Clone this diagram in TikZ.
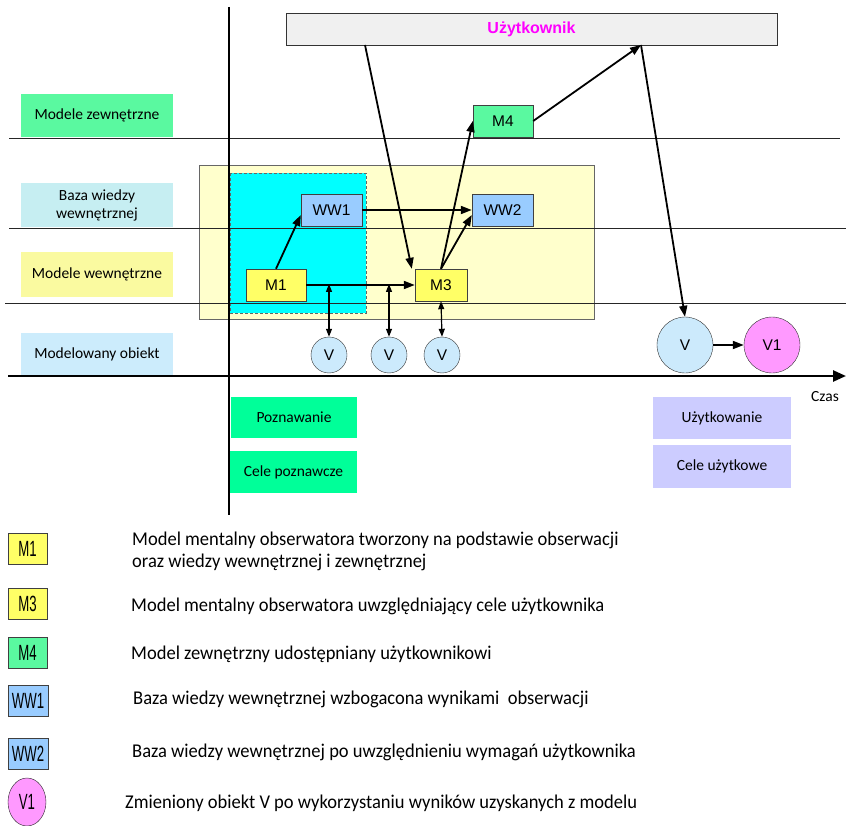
\documentclass[tikz,border=0pt]{standalone}
\usepackage{fontspec}
\setmainfont{Carlito}
\newfontfamily\arialf{Liberation Sans}
\newfontfamily\legf[FakeStretch=0.95]{Carlito}
\newfontfamily\legboxf[FakeStretch=0.6]{Liberation Sans}
\usetikzlibrary{arrows.meta,shapes.geometric}
\definecolor{greenA}{RGB}{90,249,160}
\definecolor{cyanL}{RGB}{198,238,242}
\definecolor{yellowL}{RGB}{250,250,160}
\definecolor{blueL}{RGB}{204,236,252}
\definecolor{bgYellow}{RGB}{255,255,204}
\definecolor{cyanF}{RGB}{0,255,255}
\definecolor{boxBlue}{RGB}{153,204,255}
\definecolor{boxYellow}{RGB}{255,255,102}
\definecolor{vBlue}{RGB}{204,234,252}
\definecolor{vPink}{RGB}{255,153,255}
\definecolor{poznGreen}{RGB}{0,255,153}
\definecolor{lilac}{RGB}{204,204,255}
\definecolor{userGray}{RGB}{240,240,240}
\definecolor{magentaT}{RGB}{255,0,255}
\tikzset{
  lbl/.style={fill=#1, minimum width=152pt, inner sep=0pt, align=center, font=\fontsize{15.5}{18}\selectfont},
  goal/.style={fill=#1, inner sep=0pt, font=\fontsize{15.5}{18}\selectfont},
  mbox/.style={draw=black!75, fill=#1, inner sep=0pt, font=\arialf\fontsize{15.5}{18}\selectfont},
  vcirc/.style={circle, draw=black!80, fill=#1, inner sep=0pt, font=\arialf\fontsize{15.5}{18}\selectfont},
  lgbox/.style={draw=black!75, fill=#1, inner sep=0pt, minimum width=39pt, minimum height=31pt, font=\legboxf\fontsize{22}{24}\selectfont},
  lgtext/.style={anchor=west, inner sep=0pt, align=left, font=\legf\fontsize{19.5}{22}\selectfont},
  arr/.style={line width=1.8pt, -{Triangle[length=11pt,width=8pt]}},
  dbl/.style={line width=1.2pt, {Triangle[length=8pt,width=6pt]}-{Triangle[length=8pt,width=6pt]}},
  thinline/.style={line width=0.9pt, draw=black!85},
}
\begin{document}
\begin{tikzpicture}[x=1pt,y=-1pt]
\useasboundingbox (0,0) rectangle (846,826);
% background regions
\fill[bgYellow, draw=black!60, line width=0.8pt] (199,165) rectangle (594,319);
\fill[cyanF, draw=black!60, densely dashed, line width=0.8pt] (230,173) rectangle (366,313);
% row lines
\draw[thinline] (9,138) -- (840,138);
\draw[thinline] (9,228) -- (846,228);
\draw[thinline] (5,303) -- (846,303);
% axes
\draw[line width=2.5pt] (229,7) -- (229,515);
\draw[line width=2.5pt, -{Triangle[length=13pt,width=11pt]}] (8,376) -- (846,376);
\node[font=\fontsize{15.5}{18}\selectfont] (czas) at (825,397) {Czas};
% user box
\node[draw=black!80, fill=userGray, minimum width=491pt, minimum height=32pt, inner sep=0pt,
  font=\arialf\bfseries\fontsize{16}{18}\selectfont, text=magentaT] (uz) at (531.5,29) {U\.zytkownik};
\coordinate (uzA) at (365,45);
\coordinate (uzB) at (641,45);
% left labels
\node[lbl=greenA, minimum height=43pt] (mz) at (97,115.5) {Modele zewnętrzne};
\node[lbl=cyanL, minimum height=44pt] (bw) at (97,205.5) {Baza wiedzy\\wewnętrznej};
\node[lbl=yellowL, minimum height=45pt] (mw) at (97,274.5) {Modele wewnętrzne};
\node[lbl=blueL, minimum height=42pt] (mo) at (97,354) {Modelowany obiekt};
% model boxes
\node[mbox=boxBlue, minimum width=61pt, minimum height=32pt] (ww1) at (331.5,210) {WW1};
\node[mbox=boxBlue, minimum width=61pt, minimum height=32pt] (ww2) at (502.5,210) {WW2};
\node[mbox=boxYellow, minimum width=60pt, minimum height=32pt] (m1) at (276,285) {M1};
\node[mbox=boxYellow, minimum width=52pt, minimum height=32pt] (m3) at (441,285) {M3};
\node[mbox=greenA, minimum width=60pt, minimum height=32pt] (m4) at (503,121) {M4};
% objects
\node[vcirc=vBlue, minimum size=36pt] (va) at (329,355) {V};
\node[vcirc=vBlue, minimum size=36pt] (vb) at (389,355) {V};
\node[vcirc=vBlue, minimum size=36pt] (vc) at (442,355) {V};
\node[vcirc=vBlue, minimum size=56pt] (bv) at (685,345) {V};
\node[vcirc=vPink, minimum size=56pt] (v1) at (772,345) {V1};
% goal boxes
\node[goal=poznGreen, minimum width=126pt, minimum height=41pt] (pz) at (294,417.5) {Poznawanie};
\node[goal=poznGreen, minimum width=127pt, minimum height=42pt] (cp) at (293.5,472) {Cele poznawcze};
\node[goal=lilac, minimum width=138pt, minimum height=42pt] (uw) at (722,418) {Użytkowanie};
\node[goal=lilac, minimum width=138pt, minimum height=43pt] (cu) at (722,466.5) {Cele użytkowe};
% arrows
\coordinate (p1) at (329,285);
\coordinate (p2) at (389,285);
\draw[arr] (uzA) -- ([xshift=-3pt]m3.north west);
\draw[arr] (m3.north) -- (m4.west);
\draw[arr] (m3.north) -- ([yshift=-5pt]ww2.west);
\draw[arr] (m4.east) -- (uzB);
\draw[arr] (uzB) -- (bv.north);
\draw[arr] (bv.east) -- (v1.west);
\draw[arr] (m1.east) -- (m3.west);
\draw[arr] (m1.north) -- ([yshift=-5pt]ww1.west);
\draw[arr] (ww1.east) -- (ww2.west);
\draw[dbl] ([yshift=1pt]p1) -- (va.north);
\draw[dbl] ([yshift=1pt]p2) -- (vb.north);
\draw[dbl] (m3.south) -- (vc.north);
% legend
\node[lgbox=boxYellow] (lm1) at (27.5,549) {M1};
\node[lgbox=boxYellow] (lm3) at (27.5,603.5) {M3};
\node[lgbox=greenA] (lm4) at (27.5,652.5) {M4};
\node[lgbox=boxBlue, minimum width=40pt] (lww1) at (28,700.5) {WW1};
\node[lgbox=boxBlue, minimum width=40pt] (lww2) at (28,753.5) {WW2};
\node[ellipse, draw=black!85, fill=vPink, minimum width=38pt, minimum height=48pt, inner sep=0pt,
  font=\legboxf\fontsize{22}{24}\selectfont] (lv1) at (27,802) {V1};
\node[lgtext] (t1) at (132,551) {Model mentalny obserwatora tworzony na podstawie obserwacji\\oraz wiedzy wewnętrznej i zewnętrznej};
\node[lgtext] (t3) at (131,606) {Model mentalny obserwatora uwzględniający cele użytkownika};
\node[lgtext] (t4) at (131,654) {Model zewnętrzny udostępniany użytkownikowi};
\node[lgtext] (t5) at (133,699) {Baza wiedzy wewnętrznej wzbogacona wynikami\ \ obserwacji};
\node[lgtext] (t6) at (132,752) {Baza wiedzy wewnętrznej po uwzględnieniu wymagań użytkownika};
\node[lgtext] (t7) at (125,803) {Zmieniony obiekt V po wykorzystaniu wyników uzyskanych z modelu};
\end{tikzpicture}
\end{document}
